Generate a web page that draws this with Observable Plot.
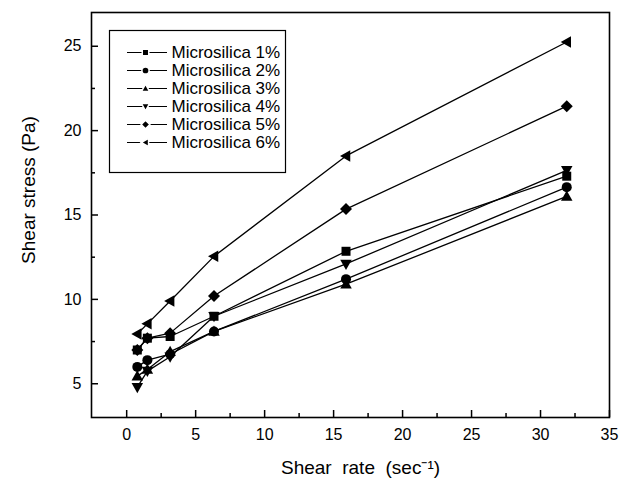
<!DOCTYPE html>
<html><head><meta charset="utf-8">
<script src="https://cdn.jsdelivr.net/npm/d3@7"></script>
<script src="https://cdn.jsdelivr.net/npm/@observablehq/plot@0.6"></script>
<style>
html,body{margin:0;padding:0;background:#fff;}
#wrap{position:relative;width:621px;height:482px;font-family:"Liberation Sans",Arial,sans-serif;}
#legend{position:absolute;left:109px;top:30px;}
svg{overflow:visible}
</style></head><body><div id="wrap"><div id="main"></div><div id="legend"></div></div>
<script>
// ---- data ----
const shearRate = [0.77, 1.5, 3.15, 6.33, 15.9, 31.9];
const seriesNames = ["Microsilica 1%", "Microsilica 2%", "Microsilica 3%", "Microsilica 4%", "Microsilica 5%", "Microsilica 6%"];
const ms1 = [7.0, 7.7, 7.8, 9.0, 12.85, 17.3];
const ms2 = [6.0, 6.4, 6.75, 8.1, 11.2, 16.65];
const ms3 = [5.45, 5.85, 6.9, 8.1, 10.9, 16.1];
const ms4 = [4.8, 5.75, 6.6, 9.0, 12.1, 17.65];
const ms5 = [7.0, 7.7, 8.0, 10.2, 15.35, 21.45];
const ms6 = [7.95, 8.55, 9.9, 12.55, 18.5, 25.25];
const xMajorTicks = [0, 5, 10, 15, 20, 25, 30, 35];
const xMinorTicks = [2.5, 7.5, 12.5, 17.5, 22.5, 27.5, 32.5];
const yMajorTicks = [5, 10, 15, 20, 25];
const yMinorTicks = [7.5, 12.5, 17.5, 22.5];
const xTitle = "Shear\u00A0 rate\u00A0 (sec\u207B\u00B9)";
const yTitle = "Shear stress (Pa)";

const seriesValues = [ms1, ms2, ms3, ms4, ms5, ms6];
const table = seriesNames.flatMap((s, i) => shearRate.map((x, j) => ({series: s, x, y: seriesValues[i][j]})));

// ---- custom symbols (r derived from Plot's area size) ----
const R = size => Math.sqrt(size / Math.PI);
const symSquare = {draw(c, size){ const a = 0.9 * R(size); c.rect(-a, -a, 2*a, 2*a); }};
const symCircle = {draw(c, size){ const r = R(size); c.moveTo(r, 0); c.arc(0, 0, r, 0, 2*Math.PI); }};
const symUp = {draw(c, size){ const r = R(size); c.moveTo(0, -1.2*r); c.lineTo(1.15*r, 0.85*r); c.lineTo(-1.15*r, 0.85*r); c.closePath(); }};
const symDown = {draw(c, size){ const r = R(size); c.moveTo(0, 1.2*r); c.lineTo(1.15*r, -0.85*r); c.lineTo(-1.15*r, -0.85*r); c.closePath(); }};
const symDiamond = {draw(c, size){ const h = 1.2 * R(size); c.moveTo(0, -h); c.lineTo(h, 0); c.lineTo(0, h); c.lineTo(-h, 0); c.closePath(); }};
const symLeft = {draw(c, size){ const r = R(size); c.moveTo(-1.2*r, 0); c.lineTo(0.85*r, -1.15*r); c.lineTo(0.85*r, 1.15*r); c.closePath(); }};
const symbols = [symSquare, symCircle, symUp, symDown, symDiamond, symLeft];

const W = 621, H = 482, mL = 91, mR = 12, mT = 12, mB = 65;
const plotW = W - mL - mR, plotH = H - mT - mB;

const main = Plot.plot({
  width: W, height: H,
  marginLeft: mL, marginRight: mR, marginTop: mT, marginBottom: mB,
  style: {fontFamily: '"Liberation Sans", Arial, sans-serif', fontSize: "16px", color: "#000", background: "#fff"},
  x: {domain: [-2.55, 35]},
  y: {domain: [3, 27]},
  marks: [
    Plot.ruleX(xMajorTicks, {x: d => d, insetTop: plotH - 7, stroke: "#000", strokeWidth: 1.5}),
    Plot.ruleX(xMinorTicks, {x: d => d, insetTop: plotH - 4, stroke: "#000", strokeWidth: 1.5}),
    Plot.ruleY(yMajorTicks, {y: d => d, insetRight: plotW - 7, stroke: "#000", strokeWidth: 1.5}),
    Plot.ruleY(yMinorTicks, {y: d => d, insetRight: plotW - 4, stroke: "#000", strokeWidth: 1.5}),
    Plot.axisX({ticks: xMajorTicks, tickSize: 0, tickPadding: 11, label: null, fontSize: 16}),
    Plot.axisY({ticks: yMajorTicks, tickSize: 0, tickPadding: 10, label: null, fontSize: 16}),
    Plot.line(table, {x: "x", y: "y", z: "series", stroke: "#000", strokeWidth: 1.3}),
    ...seriesNames.map((s, i) => Plot.dot(table.filter(d => d.series === s), {x: "x", y: "y", symbol: symbols[i], r: 5, fill: "#000", stroke: "none"})),
    Plot.frame({stroke: "#000", strokeWidth: 1.6}),
    Plot.text([xTitle], {frameAnchor: "bottom", dx: 10, dy: 50, fontSize: 19, textAnchor: "middle", lineAnchor: "middle", fill: "#000"}),
    Plot.text([yTitle], {frameAnchor: "left", dx: -63, dy: -25, rotate: -90, fontSize: 19, textAnchor: "middle", lineAnchor: "middle", fill: "#000"})
  ]
});
document.getElementById("main").appendChild(main);

// ---- legend ----
const legend = Plot.plot({
  width: 176, height: 142, margin: 0,
  style: {fontFamily: '"Liberation Sans", Arial, sans-serif', fontSize: "17px", color: "#000", background: "#fff"},
  x: {domain: [0, 176], range: [0, 176], axis: null},
  y: {type: "point", domain: seriesNames, range: [21, 112.3], padding: 0, axis: null},
  marks: [
    Plot.frame({stroke: "#000", strokeWidth: 1.2}),
    Plot.ruleY(seriesNames, {y: d => d, x1: 18, x2: 58, stroke: "#000", strokeWidth: 1.2}),
    ...seriesNames.map((s, i) => Plot.dot([s], {x: 36, y: d => d, symbol: symbols[i], r: 3.6, fill: "#000", stroke: "#fff", strokeWidth: 1.5})),
    Plot.text(seriesNames, {x: 62, y: d => d, text: d => d, textAnchor: "start", fontSize: 17, fill: "#000"})
  ]
});
document.getElementById("legend").appendChild(legend);
</script></body></html>
